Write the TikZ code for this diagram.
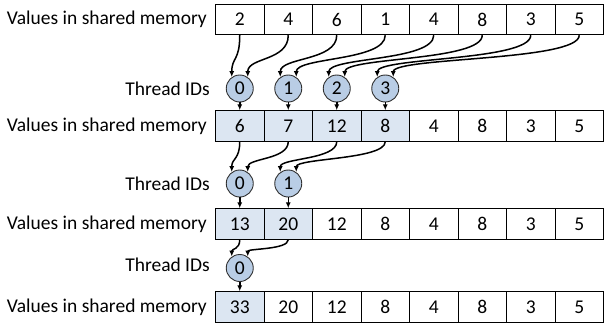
\documentclass[tikz,border=0pt]{standalone}
\usepackage{fontspec}
\setmainfont{Carlito}
\usetikzlibrary{arrows.meta}
\definecolor{cellblue}{HTML}{DCE6F2}
\definecolor{thrblue}{HTML}{B9CDE5}
\definecolor{thrline}{HTML}{303030}
\begin{document}
\begin{tikzpicture}[x=1pt,y=-1pt,
  font=\fontsize{19.5}{22}\selectfont,
  cell/.style={draw, line width=0.9pt, minimum width=48.5pt, minimum height=30.5pt, inner sep=0pt},
  thr/.style={circle, draw=thrline, fill=thrblue, line width=0.9pt, minimum size=27pt, inner sep=0pt},
  arr/.style={line width=1.5pt, -{Latex[length=6pt,width=5pt]}},
  lbl/.style={anchor=east, inner sep=0pt}]
\useasboundingbox (0,0) rectangle (604,324);

% labels
\node[lbl] (la) at (207,19.5) {Values in shared memory};
\node[lbl] (lb) at (207,126) {Values in shared memory};
\node[lbl] (lc) at (207,224) {Values in shared memory};
\node[lbl] (ld) at (207,307) {Values in shared memory};
\node[lbl] (ta) at (210,88.5) {Thread IDs};
\node[lbl] (tb) at (210,183.5) {Thread IDs};
\node[lbl] (tc) at (210,265) {Thread IDs};

% rows of cells
\foreach \v/\f [count=\i from 0] in {2/white,4/white,6/white,1/white,4/white,8/white,3/white,5/white}
  \node[cell, fill=\f] (a\i) at ({239.75+48.5*\i},19.5) {\v};
\foreach \v/\f [count=\i from 0] in {6/cellblue,7/cellblue,12/cellblue,8/cellblue,4/white,8/white,3/white,5/white}
  \node[cell, fill=\f] (b\i) at ({239.75+48.5*\i},126) {\v};
\foreach \v/\f [count=\i from 0] in {13/cellblue,20/cellblue,12/white,8/white,4/white,8/white,3/white,5/white}
  \node[cell, fill=\f] (c\i) at ({239.75+48.5*\i},224) {\v};
\foreach \v/\f [count=\i from 0] in {33/cellblue,20/white,12/white,8/white,4/white,8/white,3/white,5/white}
  \node[cell, fill=\f] (d\i) at ({239.75+48.5*\i},307) {\v};

% thread circles
\foreach \i in {0,1,2,3}
  \node[thr] (p\i) at ({239.75+48.5*\i},88.5) {\i};
\foreach \i in {0,1}
  \node[thr] (q\i) at ({239.75+48.5*\i},183.5) {\i};
\node[thr] (r0) at (239.75,268) {0};

% round 1
\foreach \i [evaluate=\i as \j using int(2*\i), evaluate=\i as \k using int(2*\i+1)] in {0,1,2,3} {
  \draw[arr] (a\j.south) .. controls +(0,26) and +(0,-20) .. (p\i.125);
  \draw[arr] (a\k.south) .. controls +(0,26) and +(0,-20) .. (p\i.55);
  \draw[arr] (p\i.south) -- (b\i.north);
}
% round 2
\foreach \i [evaluate=\i as \j using int(2*\i), evaluate=\i as \k using int(2*\i+1)] in {0,1} {
  \draw[arr] (b\j.south) .. controls +(0,18) and +(0,-14) .. (q\i.125);
  \draw[arr] (b\k.south) .. controls +(0,18) and +(0,-14) .. (q\i.55);
  \draw[arr] (q\i.south) -- (c\i.north);
}
% round 3
\draw[arr] (c0.south) .. controls +(0,10) and +(0,-8) .. (r0.125);
\draw[arr] (c1.south) .. controls +(0,10) and +(0,-8) .. (r0.55);
\draw[arr] (r0.south) -- (d0.north);
\end{tikzpicture}
\end{document}
